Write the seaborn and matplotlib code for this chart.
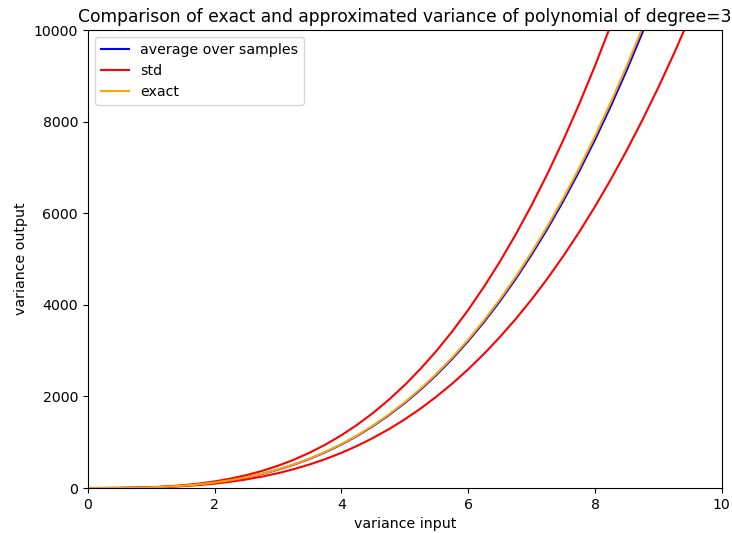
import matplotlib
matplotlib.use("Agg")
import matplotlib.pyplot as plt
import seaborn as sns
import pandas as pd

plt.rcParams["font.size"] = 10.2

# variance of the input
variance_input = [0, 0.25, 0.5, 0.75, 1, 1.25, 1.5, 1.75, 2, 2.25, 2.5, 2.75, 3, 3.25, 3.5,
                  3.75, 4, 4.25, 4.5, 4.75, 5, 5.25, 5.5, 5.75, 6, 6.25, 6.5, 6.75, 7, 7.25,
                  7.5, 7.75, 8, 8.25, 8.5, 8.75, 9, 9.25, 9.5, 9.75, 10]

# sample-based estimate of the output variance
average_over_samples = [0, 0, 2, 6, 15, 29, 50, 80, 119, 169, 232, 309, 401, 510, 637, 783, 950,
                        1140, 1353, 1592, 1856, 2149, 2471, 2823, 3208, 3626, 4078, 4567, 5094,
                        5659, 6265, 6912, 7603, 8339, 9120, 9948, 10826, 11753, 12732, 13764, 14850]

# mean plus / minus one standard deviation
std_upper = [0, 0, 2, 8, 18, 35, 61, 96, 144, 205, 281, 374, 486, 618, 772, 949, 1152, 1382,
             1640, 1929, 2250, 2605, 2995, 3422, 3888, 4395, 4943, 5536, 6174, 6859, 7594, 8379,
             9216, 10107, 11054, 12059, 13122, 14246, 15433, 16684, 18000]
std_lower = [0, 0, 2, 5, 12, 23, 41, 64, 96, 137, 188, 250, 324, 412, 515, 633, 768, 921, 1094,
             1286, 1500, 1736, 1997, 2281, 2592, 2930, 3296, 3691, 4116, 4573, 5063, 5586, 6144,
             6738, 7370, 8039, 8748, 9497, 10289, 11122, 12000]

# analytic output variance
exact = [0, 0, 2, 6, 15, 29, 51, 80, 120, 171, 234, 312, 405, 515, 643, 791, 960, 1151, 1367,
         1608, 1875, 2171, 2496, 2852, 3240, 3662, 4119, 4613, 5145, 5716, 6328, 6982, 7680,
         8423, 9212, 10049, 10935, 11872, 12861, 13903, 15000]

df = pd.DataFrame({
    "x": variance_input,
    "mean": average_over_samples,
    "upper": std_upper,
    "lower": std_lower,
    "exact": exact,
})

fig = plt.figure(figsize=(7.32, 5.33), dpi=100)
ax = fig.add_axes([0.120, 0.0844, 0.866, 0.8593])

sns.lineplot(data=df, x="x", y="mean", color="blue", label="average over samples", ax=ax)
sns.lineplot(data=df, x="x", y="upper", color="red", label="std", ax=ax)
sns.lineplot(data=df, x="x", y="lower", color="red", ax=ax)
sns.lineplot(data=df, x="x", y="exact", color="orange", label="exact", ax=ax)

ax.set_xlim(0, 10)
ax.set_ylim(0, 10000)
ax.set_xlabel("variance input")
ax.set_ylabel("variance output")
ax.set_title("Comparison of exact and approximated variance of polynomial of degree=3",
             fontsize=12.3)
ax.legend(loc="upper left")

fig.savefig("out.png", dpi=100)
